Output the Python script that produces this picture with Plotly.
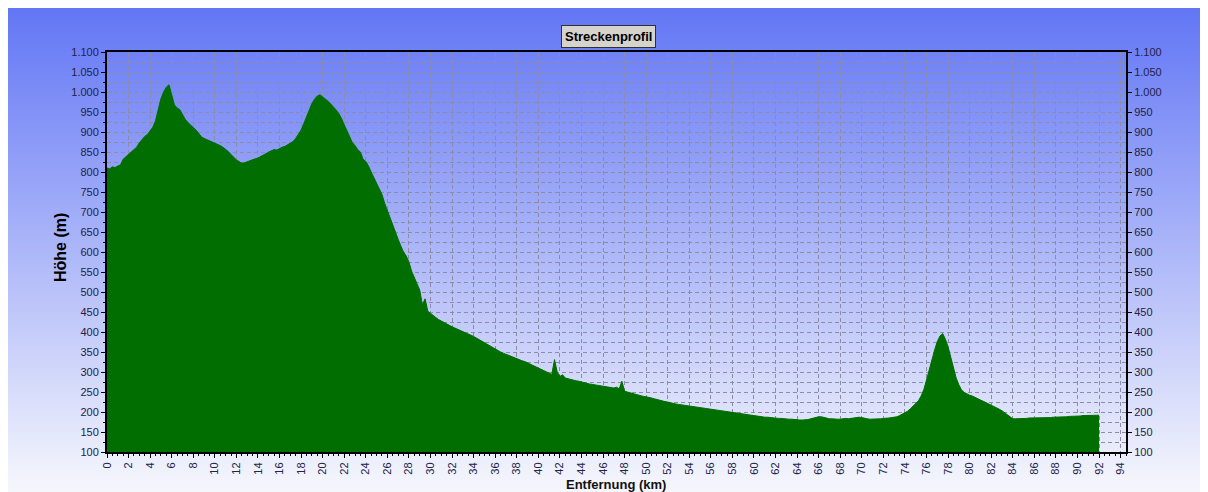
import plotly.graph_objects as go

# ---------------- data ----------------
STEP_KM = 0.25
elevation_m = [
    810, 808, 813, 811, 815, 818, 832, 838,
    845, 850, 856, 862, 873, 881, 889, 894,
    903, 912, 928, 955, 983, 1000, 1012, 1018,
    995, 968, 960, 956, 944, 932, 924, 918,
    912, 905, 897, 888, 884, 881, 878, 876,
    873, 871, 866, 862, 857, 851, 844, 836,
    830, 826, 822, 823, 826, 829, 831, 833,
    835, 838, 842, 846, 850, 853, 856, 855,
    859, 862, 864, 868, 871, 876, 884, 895,
    905, 921, 938, 955, 971, 982, 990, 993,
    988, 983, 977, 970, 963, 955, 946, 934,
    918, 903, 888, 874, 866, 856, 850, 832,
    826, 815, 800, 786, 772, 758, 744, 722,
    703, 688, 667, 650, 632, 615, 600, 590,
    575, 552, 535, 522, 505, 468, 483, 452,
    446, 440, 436, 431, 427, 424, 421, 417,
    413, 410, 407, 404, 401, 398, 397, 393,
    389, 385, 381, 377, 372, 368, 364, 360,
    356, 353, 350, 347, 344, 341, 338, 335,
    333, 331, 328, 326, 323, 320, 317, 314,
    311, 308, 305, 302, 298, 294, 331, 300,
    289, 293, 285, 283, 281, 280, 278, 277,
    275, 274, 272, 270, 269, 268, 266, 265,
    264, 263, 262, 261, 260, 262, 258, 277,
    252, 250, 248, 246, 244, 243, 241, 239,
    238, 237, 235, 233, 231, 230, 228, 226,
    225, 223, 222, 220, 219, 218, 217, 216,
    214, 213, 212, 211, 210, 209, 208, 207,
    206, 205, 205, 204, 202, 201, 200, 199,
    198, 197, 196, 195, 194, 193, 192, 191,
    190, 190, 189, 188, 187, 187, 186, 185,
    185, 184, 184, 183, 183, 182, 182, 181,
    181, 180, 180, 180, 181, 183, 185, 187,
    188, 188, 186, 184, 183, 183, 182, 182,
    182, 183, 184, 183, 184, 185, 187, 187,
    186, 184, 183, 182, 182, 182, 183, 183,
    184, 184, 185, 186, 187, 188, 191, 194,
    198, 202, 208, 214, 220, 228, 240, 256,
    280, 305, 335, 355, 376, 390, 396, 382,
    363, 335, 305, 285, 268, 255, 249, 245,
    242, 240, 236, 233, 230, 227, 224, 221,
    218, 214, 211, 207, 203, 198, 192, 186,
    183, 183, 183, 184, 184, 184, 185, 185,
    185, 185, 186, 186, 186, 186, 186, 187,
    187, 187, 188, 188, 188, 189, 189, 190,
    190, 190, 191, 191, 191, 192, 192, 192,
    192,
]
distance_km = [i * STEP_KM for i in range(len(elevation_m))]

y_tick_values = list(range(100, 1101, 50))
y_tick_labels = ["{:,}".format(v).replace(",", ".") for v in y_tick_values]
x_tick_values = list(range(0, 95, 2))
x_tick_labels = [str(v) for v in x_tick_values]

# ---------------- figure ----------------
OFF = 8                      # page margin of the html body
W, H = 1208 - OFF, 492 - OFF
L, R, T, B = 107 - OFF, 82, 52 - OFF, 40
PW, PH = W - L - R, H - T - B


def px_x(x):  # window pixel -> paper x
    return (x - OFF - L) / PW


def px_y(y):  # window pixel -> paper y
    return (H - B - (y - OFF)) / PH


GREEN = "#006E00"
TICKCOL = "#22224a"

fig = go.Figure()
fig.add_trace(go.Scatter(
    x=distance_km, y=elevation_m, mode="lines",
    line=dict(color=GREEN, width=1), fill="tozeroy", fillcolor=GREEN,
    showlegend=False, hoverinfo="x+y",
))
fig.add_trace(go.Scatter(
    x=distance_km[:1], y=elevation_m[:1], yaxis="y2", mode="lines",
    line=dict(width=0), showlegend=False, hoverinfo="skip",
))

# gradient background built from stripes (paper coordinates)
top_rgb = (98, 118, 245)
bot_rgb = (246, 247, 252)
n = 121
shapes = []
for i in range(n):
    y0px = OFF + i / n * H
    y1px = OFF + (i + 1) / n * H
    t = (i + 0.5) / n
    c = tuple(round(top_rgb[k] + (bot_rgb[k] - top_rgb[k]) * t) for k in range(3))
    shapes.append(dict(
        type="rect", xref="paper", yref="paper", layer="below",
        x0=px_x(OFF) - 0.01, x1=px_x(1208) + 0.01,
        y0=px_y(y1px) - 0.001, y1=px_y(y0px),
        fillcolor="rgb(%d,%d,%d)" % c, line=dict(width=0),
    ))

grid = dict(showgrid=True, gridcolor="#8c8ca6", gridwidth=1, griddash="4px,3px")
tickfont = dict(family="Liberation Sans, Arial, sans-serif", size=11, color=TICKCOL)

fig.update_layout(
    width=W, height=H,
    margin=dict(l=L, r=R, t=T, b=B),
    paper_bgcolor="white", plot_bgcolor="rgba(0,0,0,0)",
    shapes=shapes,
    xaxis=dict(
        range=[0, 94.5], tickvals=x_tick_values, ticktext=x_tick_labels,
        tickangle=-90, ticks="outside", ticklen=4, tickcolor="black",
        tickfont=tickfont, showline=True, linecolor="black", linewidth=2,
        mirror=True, zeroline=False,
        minor=dict(dtick=0.5, ticks="outside", ticklen=2, tickcolor="black", showgrid=False),
        **grid,
    ),
    yaxis=dict(
        range=[100, 1100], tickvals=y_tick_values, ticktext=y_tick_labels,
        ticks="outside", ticklen=4, tickcolor="black", tickfont=tickfont,
        showline=True, linecolor="black", linewidth=2, zeroline=False,
        minor=dict(dtick=25, tick0=100, ticks="outside", ticklen=2, tickcolor="black",
                   showgrid=True, gridcolor="#8c8ca6", griddash="4px,3px"),
        **grid,
    ),
    yaxis2=dict(
        range=[100, 1100], tickvals=y_tick_values, ticktext=y_tick_labels,
        overlaying="y", side="right", showgrid=False, zeroline=False,
        ticks="outside", ticklen=4, tickcolor="black", tickfont=tickfont,
        showline=True, linecolor="black", linewidth=2,
    ),
    annotations=[
        dict(text="<b>Streckenprofil</b>", xref="paper", yref="paper",
             x=px_x(608), y=px_y(37), xanchor="center", yanchor="middle",
             showarrow=False, bgcolor="#d6d3cc", bordercolor="#303030", borderwidth=1,
             borderpad=3, font=dict(family="Liberation Sans, Arial, sans-serif", size=13, color="black")),
        dict(text="<b>Höhe (m)</b>", xref="paper", yref="paper",
             x=px_x(60), y=px_y(248), xanchor="center", yanchor="middle",
             textangle=-90, showarrow=False,
             font=dict(family="Liberation Sans, Arial, sans-serif", size=16, color="black")),
        dict(text="<b>Entfernung (km)</b>", xref="paper", yref="paper",
             x=px_x(616), y=px_y(484), xanchor="center", yanchor="middle",
             showarrow=False,
             font=dict(family="Liberation Sans, Arial, sans-serif", size=13, color="#111111")),
    ],
)

fig.write_html("out.html")
